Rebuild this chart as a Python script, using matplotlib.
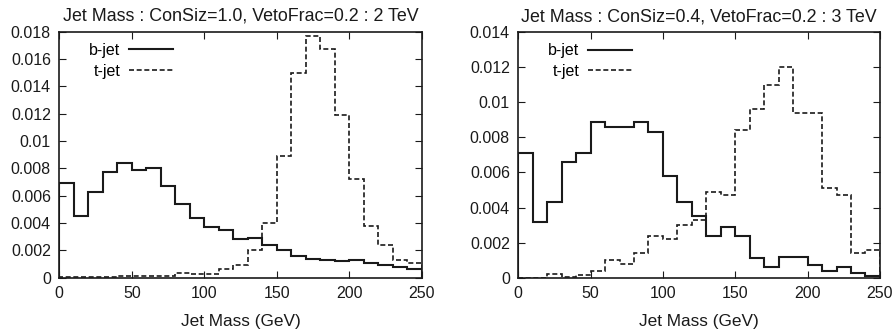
import numpy as np
import matplotlib
matplotlib.use("Agg")
import matplotlib.pyplot as plt
from matplotlib.ticker import FuncFormatter, MultipleLocator

plt.rcParams["font.family"] = ["Liberation Sans", "DejaVu Sans"]

# bin edges of the jet mass histograms (GeV)
bin_edges = np.arange(0, 251, 10)

# 2 TeV, ConSiz=1.0
b_jet_2tev = [0.0069, 0.0045, 0.0063, 0.0077, 0.0084, 0.0079, 0.0080, 0.0067,
              0.0054, 0.0044, 0.0037, 0.0035, 0.0028, 0.0029, 0.0024, 0.0020,
              0.0016, 0.0014, 0.0013, 0.0012, 0.0013, 0.0011, 0.0009, 0.0008,
              0.0006]
t_jet_2tev = [0.00002, 0.00003, 0.00004, 0.00006, 0.0001, 0.0001, 0.0001, 0.00015,
              0.00035, 0.0003, 0.0003, 0.0006, 0.0009, 0.0020, 0.0040, 0.0089,
              0.0150, 0.0177, 0.0167, 0.0119, 0.0072, 0.0038, 0.0024, 0.0013,
              0.0011]

# 3 TeV, ConSiz=0.4
b_jet_3tev = [0.0071, 0.0032, 0.0043, 0.0066, 0.0071, 0.0089, 0.0086, 0.0086,
              0.0089, 0.0083, 0.0058, 0.0043, 0.0035, 0.0024, 0.0029, 0.0024,
              0.0011, 0.0006, 0.0012, 0.0012, 0.0007, 0.0004, 0.0006, 0.00025,
              0.0001]
t_jet_3tev = [0.0, 0.0, 0.0002, 0.00004, 0.00013, 0.0004, 0.0010, 0.0008,
              0.0014, 0.0024, 0.0022, 0.0030, 0.0033, 0.0049, 0.0047, 0.0084,
              0.0096, 0.0110, 0.0120, 0.0094, 0.0094, 0.0051, 0.0047, 0.0014,
              0.0016]

panels = [
    ("Jet Mass : ConSiz=1.0, VetoFrac=0.2 : 2 TeV", b_jet_2tev, t_jet_2tev, 0.018),
    ("Jet Mass : ConSiz=0.4, VetoFrac=0.2 : 3 TeV", b_jet_3tev, t_jet_3tev, 0.014),
]

fig = plt.figure(figsize=(8.93, 3.34), dpi=100)
axes = [
    fig.add_axes([0.0664, 0.1686, 0.4058, 0.7364]),
    fig.add_axes([0.5804, 0.1686, 0.4050, 0.7350]),
]


def fmt(v, _pos):
    return "%g" % round(v, 6)


for ax, (title, b_vals, t_vals, ymax) in zip(axes, panels):
    ax.stairs(b_vals, bin_edges, color="#1a1a1a", linewidth=1.5, label="b-jet")
    ax.stairs(t_vals, bin_edges, color="#1a1a1a", linewidth=1.2,
              linestyle=(0, (3, 1.6)), label="t-jet")
    ax.set_xlim(0, 250)
    ax.set_ylim(0, ymax)
    ax.xaxis.set_major_locator(MultipleLocator(50))
    ax.yaxis.set_major_locator(MultipleLocator(0.002))
    ax.yaxis.set_major_formatter(FuncFormatter(fmt))
    ax.tick_params(direction="in", top=True, right=True, length=5, width=0.8,
                   labelsize=11.5, colors="#1a1a1a", pad=6)
    for sp in ax.spines.values():
        sp.set_linewidth(1.2)
        sp.set_color("#1a1a1a")
    ax.set_title(title, fontsize=12.9, color="#1a1a1a", pad=8)
    ax.set_xlabel("Jet Mass (GeV)", fontsize=12.4, color="#1a1a1a", labelpad=9)
    ax.legend(loc="upper left", frameon=False, markerfirst=False, fontsize=11.5,
              handlelength=2.75, handletextpad=0.55, labelspacing=0.35,
              bbox_to_anchor=(0.052, 1.0), borderaxespad=0.3)

fig.savefig("out.png", dpi=100)
